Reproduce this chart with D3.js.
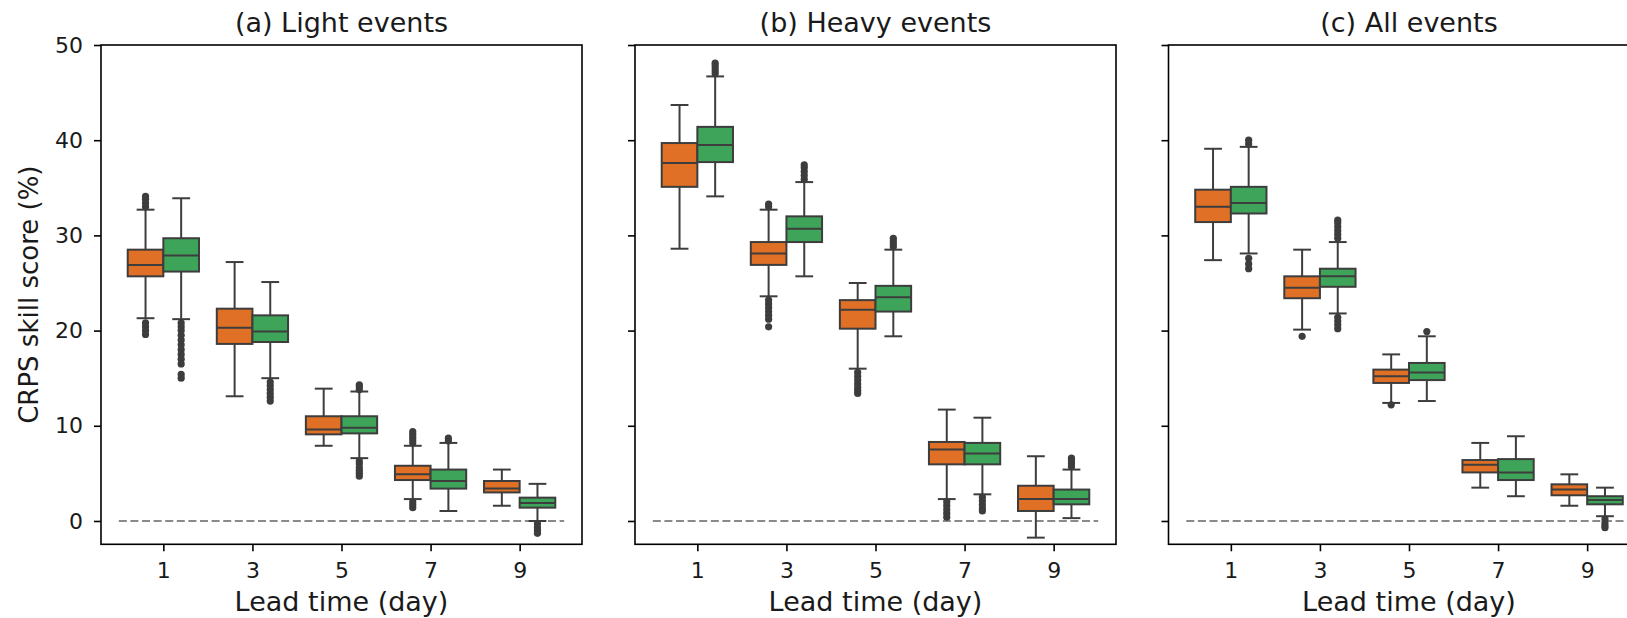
<!DOCTYPE html>
<html>
<head>
<meta charset="utf-8">
<script src="https://cdn.jsdelivr.net/npm/d3@7"></script>
<style>
  body { margin: 0; background: #fff; }
  text { font-family: "DejaVu Sans", sans-serif; fill: #1a1a1a; }
</style>
</head>
<body>
<div id="chart"></div>
<script>

// lead times on the x axis, one box pair per day
const leadDays = [1, 3, 5, 7, 9];
const yTicks = [0, 10, 20, 30, 40, 50];
const panelTitles = ["(a) Light events", "(b) Heavy events", "(c) All events"];

// each box: [whisker low, q1, median, q3, whisker high]
const lightOrange = [[21.3, 25.7, 26.9, 28.5, 32.7], [13.1, 18.6, 20.3, 22.3, 27.2], [7.9, 9.1, 9.6, 11.0, 13.9], [2.3, 4.3, 4.9, 5.8, 7.9], [1.6, 3.0, 3.4, 4.2, 5.4]];
const lightGreen = [[21.2, 26.2, 27.9, 29.7, 33.9], [15.0, 18.8, 19.9, 21.6, 25.1], [6.6, 9.2, 9.8, 11.0, 13.6], [1.05, 3.4, 4.2, 5.4, 8.2], [0.0, 1.4, 1.9, 2.45, 3.9]];
const heavyOrange = [[28.6, 35.1, 37.6, 39.7, 43.7], [23.6, 26.9, 28.1, 29.3, 32.7], [16.0, 20.2, 22.2, 23.2, 25.0], [2.3, 5.95, 7.5, 8.3, 11.7], [-1.75, 1.05, 2.3, 3.7, 6.8]];
const heavyGreen = [[34.1, 37.7, 39.5, 41.4, 46.7], [25.7, 29.3, 30.7, 32.0, 35.6], [19.4, 22.0, 23.5, 24.7, 28.5], [2.8, 5.95, 7.1, 8.2, 10.85], [0.3, 1.75, 2.3, 3.3, 5.4]];
const allOrange = [[27.4, 31.4, 33.0, 34.8, 39.1], [20.1, 23.4, 24.5, 25.7, 28.5], [12.4, 14.5, 15.2, 15.9, 17.5], [3.5, 5.1, 5.9, 6.4, 8.2], [1.6, 2.7, 3.3, 3.85, 4.9]];
const allGreen = [[28.1, 32.3, 33.4, 35.1, 39.3], [21.8, 24.6, 25.7, 26.5, 29.3], [12.6, 14.8, 15.6, 16.6, 19.4], [2.6, 4.3, 5.1, 6.5, 8.9], [0.5, 1.75, 2.2, 2.6, 3.5]];

// outlier points per box
const lightOrangeOut = [[33.0, 33.4, 33.8, 34.1, 20.8, 20.4, 20.0, 19.6], [], [], [8.2, 8.5, 8.8, 9.1, 9.4, 2.0, 1.7, 1.4], []];
const lightGreenOut = [[20.8, 20.4, 20.0, 19.5, 19.0, 18.5, 18.0, 17.5, 17.0, 16.5, 15.4, 15.0], [14.6, 14.2, 13.8, 13.4, 13.0, 12.6], [13.8, 14.1, 14.3, 6.3, 6.0, 5.6, 5.3, 5.0, 4.7], [8.4, 8.7], [-0.3, -0.7, -1.0, -1.3]];
const heavyOrangeOut = [[], [33.0, 33.3, 23.2, 22.8, 22.4, 22.0, 21.6, 21.2, 20.4], [15.6, 15.2, 14.8, 14.4, 14.0, 13.7, 13.4], [2.0, 1.6, 1.2, 0.8, 0.4], []];
const heavyGreenOut = [[47.0, 47.3, 47.6, 47.9, 48.1], [35.9, 36.3, 36.7, 37.1, 37.4], [28.8, 29.1, 29.4, 29.7], [2.5, 2.1, 1.7, 1.3, 1.05], [5.7, 6.0, 6.3, 6.6]];
const allOrangeOut = [[], [19.4], [12.2], [], []];
const allGreenOut = [[39.6, 40.0, 27.6, 27.0, 26.5], [29.7, 30.1, 30.5, 30.9, 31.3, 31.6, 21.4, 21.0, 20.6, 20.2], [19.9], [], [0.2, -0.2, -0.5, -0.7]];

const orangeCol = "#e07025";
const greenCol = "#3ea45a";
const lineCol = "#3d3d3d";

const panels = [
    {title: panelTitles[0], series: [[lightOrange, lightOrangeOut, orangeCol], [lightGreen, lightGreenOut, greenCol]]},
    {title: panelTitles[1], series: [[heavyOrange, heavyOrangeOut, orangeCol], [heavyGreen, heavyGreenOut, greenCol]]},
    {title: panelTitles[2], series: [[allOrange, allOrangeOut, orangeCol], [allGreen, allGreenOut, greenCol]]}
];

const W = 1627, H = 618;
const panelLeft = [101, 635, 1168.5];
const panelW = 481;
const plotTop = 45, plotBottom = 544.3;

const svg = d3.select("#chart").append("svg")
    .attr("width", W)
    .attr("height", H);

const y = d3.scaleLinear().domain([-2.45, 50]).range([plotBottom, plotTop]);

panels.forEach((p, pi) => {
    const x = d3.scaleLinear().domain([-0.7, 4.7]).range([0, panelW]);
    const unit = x(1) - x(0);
    const g = svg.append("g").attr("transform", `translate(${panelLeft[pi]},0)`);

    // zero reference line
    g.append("line")
        .attr("x1", x(-0.5)).attr("x2", x(4.5))
        .attr("y1", y(0)).attr("y2", y(0))
        .attr("stroke", "#8a8a8a")
        .attr("stroke-width", 1.8)
        .attr("stroke-dasharray", "8,3.6");

    p.series.forEach((s, si) => {
        const [boxes, outs, col] = s;
        const off = si === 0 ? -0.2 : 0.2;
        const bw = 0.4 * unit;
        boxes.forEach((b, i) => {
            const cx = x(i + off);
            const [lo, q1, med, q3, hi] = b;
            const bg = g.append("g");
            bg.append("line").attr("x1", cx).attr("x2", cx).attr("y1", y(hi)).attr("y2", y(q3))
                .attr("stroke", lineCol).attr("stroke-width", 2);
            bg.append("line").attr("x1", cx).attr("x2", cx).attr("y1", y(q1)).attr("y2", y(lo))
                .attr("stroke", lineCol).attr("stroke-width", 2);
            [lo, hi].forEach(v => {
                bg.append("line").attr("x1", cx - bw / 4).attr("x2", cx + bw / 4)
                    .attr("y1", y(v)).attr("y2", y(v))
                    .attr("stroke", lineCol).attr("stroke-width", 2);
            });
            bg.append("rect")
                .attr("x", cx - bw / 2).attr("width", bw)
                .attr("y", y(q3)).attr("height", y(q1) - y(q3))
                .attr("fill", col)
                .attr("stroke", lineCol).attr("stroke-width", 2);
            bg.append("line").attr("x1", cx - bw / 2).attr("x2", cx + bw / 2)
                .attr("y1", y(med)).attr("y2", y(med))
                .attr("stroke", lineCol).attr("stroke-width", 2);
            bg.selectAll("circle.out")
                .data(outs[i])
                .join("circle")
                .attr("class", "out")
                .attr("cx", cx)
                .attr("cy", v => y(v))
                .attr("r", 3.6)
                .attr("fill", lineCol);
        });
    });

    // frame
    g.append("rect")
        .attr("x", 0).attr("y", plotTop)
        .attr("width", panelW).attr("height", plotBottom - plotTop)
        .attr("fill", "none").attr("stroke", "#000").attr("stroke-width", 1.6);

    const xAxis = g.append("g")
        .attr("transform", `translate(0,${plotBottom})`)
        .call(d3.axisBottom(x).tickValues(d3.range(leadDays.length))
            .tickFormat(i => leadDays[i]).tickSize(7).tickPadding(11));
    const yAxis = g.append("g")
        .call(d3.axisLeft(y).tickValues(yTicks)
            .tickFormat(pi === 0 ? d3.format("d") : () => "").tickSize(7).tickPadding(11));
    [xAxis, yAxis].forEach(a => {
        a.select(".domain").remove();
        a.selectAll(".tick line").attr("stroke", "#000").attr("stroke-width", 1.6);
        a.selectAll("text").style("font-size", "22px").attr("fill", "#1a1a1a");
    });

    g.append("text")
        .attr("x", panelW / 2).attr("y", 32)
        .attr("text-anchor", "middle")
        .style("font-size", "27px")
        .text(p.title);

    g.append("text")
        .attr("x", panelW / 2).attr("y", 611)
        .attr("text-anchor", "middle")
        .style("font-size", "27px")
        .text("Lead time (day)");
});

svg.append("text")
    .attr("transform", `translate(38,${(plotTop + plotBottom) / 2}) rotate(-90)`)
    .attr("text-anchor", "middle")
    .style("font-size", "26px")
    .text("CRPS skill score (%)");

</script>
</body>
</html>
